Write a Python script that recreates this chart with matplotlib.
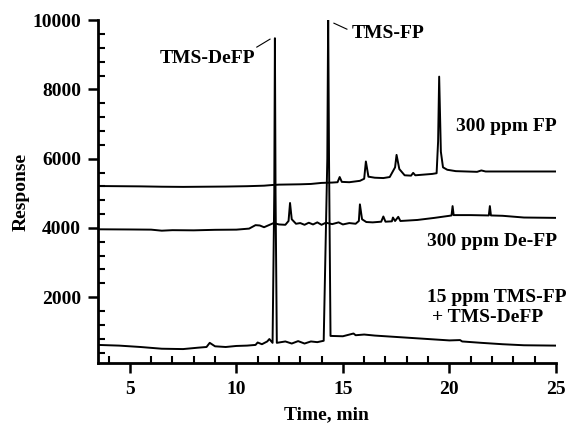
import matplotlib
matplotlib.use('Agg')
import matplotlib.pyplot as plt
from matplotlib.ticker import MultipleLocator

plt.rcParams['font.family'] = ['Liberation Serif', 'DejaVu Serif']
plt.rcParams['font.weight'] = 'bold'

# 300 ppm FP trace
t_fp = [3.5, 4.5, 5.5, 6.5, 7.5, 8.5, 9.5, 10.5, 11.3, 11.7, 12.0, 12.5, 13.0, 13.5, 14.0, 14.5,
        14.75, 14.85, 14.95, 15.3, 15.8, 16.0, 16.08, 16.2, 16.5, 16.9, 17.2, 17.45, 17.52, 17.65,
        17.9, 18.2, 18.3, 18.4, 18.8, 19.2, 19.4, 19.47, 19.52, 19.6, 19.7, 19.9, 20.3, 20.8,
        21.3, 21.5, 21.7, 22.5, 23.5, 25.0]
r_fp = [5210, 5205, 5200, 5190, 5185, 5190, 5195, 5205, 5220, 5240, 5250, 5255, 5260, 5270, 5300, 5310,
        5320, 5470, 5330, 5320, 5360, 5420, 5920, 5480, 5450, 5440, 5470, 5750, 6110, 5700,
        5520, 5510, 5590, 5520, 5540, 5560, 5580, 6500, 8370, 6200, 5750, 5680, 5640, 5630,
        5620, 5660, 5630, 5630, 5630, 5630]

# 300 ppm De-FP trace
t_defp = [3.5, 5.0, 6.0, 6.5, 7.0, 8.0, 9.0, 10.0, 10.6, 10.9, 11.1, 11.3, 11.6, 11.75, 12.0, 12.3,
          12.45, 12.52, 12.6, 12.8, 13.0, 13.2, 13.4, 13.6, 13.8, 14.0, 14.2, 14.5, 14.8, 15.0,
          15.3, 15.6, 15.75, 15.8, 15.9, 16.1, 16.4, 16.8, 16.9, 17.0, 17.3, 17.35, 17.45, 17.6,
          17.7, 18.5, 19.3, 20.0, 20.1, 20.15, 20.2, 21.0, 21.85, 21.9, 21.95, 22.5, 23.5, 25.0]
r_defp = [3960, 3955, 3950, 3920, 3935, 3930, 3945, 3950, 3980, 4080, 4070, 4020, 4100, 4140, 4100, 4090,
          4200, 4720, 4250, 4120, 4140, 4090, 4150, 4100, 4160, 4090, 4150, 4110, 4160, 4100,
          4140, 4120, 4200, 4680, 4250, 4170, 4160, 4180, 4330, 4180, 4190, 4300, 4200, 4320,
          4200, 4230, 4290, 4350, 4360, 4630, 4370, 4370, 4360, 4630, 4360, 4350, 4300, 4290]

# 15 ppm TMS-FP + TMS-DeFP trace
t_mix = [3.5, 4.5, 5.5, 6.5, 7.5, 8.2, 8.6, 8.75, 9.0, 9.5, 10.0, 10.5, 10.9, 11.0, 11.2, 11.45,
         11.55, 11.7, 11.78, 11.81, 11.84, 11.9, 12.3, 12.6, 12.9, 13.2, 13.5, 13.8, 14.1, 14.27,
         14.31, 14.35, 14.42, 15.0, 15.5, 15.6, 16.0, 16.5, 17.5, 18.5, 19.0, 20.0, 20.5, 20.6,
         21.5, 22.5, 23.5, 25.0]
r_mix = [620, 600, 560, 510, 500, 540, 560, 680, 580, 560, 590, 600, 620, 690, 640, 720,
         790, 680, 5000, 9480, 5000, 680, 720, 660, 730, 660, 720, 700, 740, 6000,
         10200, 6000, 880, 870, 950, 900, 920, 890, 850, 810, 790, 750, 760, 720,
         680, 640, 610, 600]

fig = plt.figure(figsize=(5.69, 4.30), dpi=100)
ax = fig.add_axes([0.172, 0.156, 0.805, 0.797])

for t, r in [(t_fp, r_fp), (t_defp, r_defp), (t_mix, r_mix)]:
    ax.plot(t, r, color='black', linewidth=1.4)

ax.set_xlim(3.5, 25)
ax.set_ylim(100, 10000)
ax.xaxis.set_major_locator(MultipleLocator(5))
ax.xaxis.set_minor_locator(MultipleLocator(1))
ax.yaxis.set_major_locator(MultipleLocator(2000))
ax.yaxis.set_minor_locator(MultipleLocator(400))

ax.spines['top'].set_visible(False)
ax.spines['right'].set_visible(False)
for s in ['left', 'bottom']:
    ax.spines[s].set_linewidth(2)
ax.tick_params(which='major', direction='out', length=7, width=1.8, labelsize=14, pad=5)
ax.tick_params(which='minor', direction='in', length=5, width=1.5)
ax.tick_params(axis='x', which='major', pad=6)
for lab in ax.get_xticklabels() + ax.get_yticklabels():
    lab.set_fontweight('bold')

ax.set_xlabel('Time, min', fontsize=14, fontweight='bold', labelpad=6)
ax.set_ylabel('Response', fontsize=14, fontweight='bold', labelpad=2)

# peak labels with leader lines
ax.text(8.66, 8907, 'TMS-DeFP', fontsize=14, fontweight='bold', ha='center', va='center')
ax.plot([10.96, 11.58], [9223, 9453], color='black', linewidth=0.8)
ax.text(15.42, 9626, 'TMS-FP', fontsize=14, fontweight='bold', ha='left', va='center')
ax.plot([14.58, 15.19], [9914, 9741], color='black', linewidth=0.8, clip_on=False)

# trace labels
ax.text(25.05, 6921, '300 ppm FP', fontsize=14, fontweight='bold', ha='right', va='center')
ax.text(25.05, 3612, '300 ppm De-FP', fontsize=14, fontweight='bold', ha='right', va='center')
ax.text(25.52, 2000, '15 ppm TMS-FP', fontsize=14, fontweight='bold', ha='right', va='center',
        clip_on=False)
ax.text(19.18, 1424, '+ TMS-DeFP', fontsize=14, fontweight='bold', ha='left', va='center')

fig.savefig('out.png', dpi=100)
